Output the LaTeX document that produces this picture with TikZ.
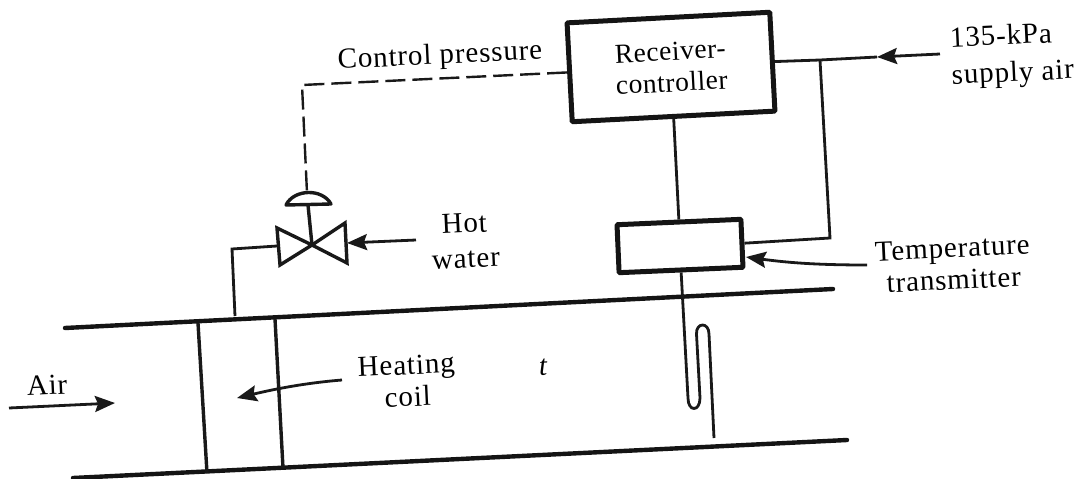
\documentclass[tikz,border=0pt]{standalone}
\usepackage{fontspec}
\setmainfont{Liberation Serif}[LetterSpace=3]
\usetikzlibrary{arrows.meta,calc}
\tikzset{
  lbl/.style={inner sep=0pt,font=\fontsize{29}{32}\selectfont,align=center,rotate=2.7},
  thinline/.style={line width=2.8pt,black!90},
  dashline/.style={line width=2.4pt,black!90,dash pattern=on 20pt off 7pt},
  valveline/.style={line width=3.4pt,black!90},
  heavy/.style={line width=4.4pt,black!92},
  boxthick/.style={draw=black!92,line width=5pt,rounded corners=1pt,inner sep=0pt},
  ptr/.style={thinline,-{Stealth[length=20pt,width=16pt,inset=3pt]}},
}
\begin{document}
\begin{tikzpicture}[x=1pt,y=-1pt]
\useasboundingbox (0,0) rectangle (1080,479);
% boxes
\node[boxthick,lbl,font=\fontsize{27.5}{31.5}\selectfont\addfontfeatures{LetterSpace=2},minimum width=203pt,minimum height=99pt,rotate=0.3] (recv) at (671,67) {Receiver-\\controller};
\node[boxthick,minimum width=124pt,minimum height=48pt,rotate=2.5] (trans) at (680,246) {};
% free ends
\coordinate (supplyend) at (940,54);
\coordinate (supplytip) at (877,57);
\coordinate (tee) at (820,60);
\coordinate (transcorner) at (830,238);
\coordinate (dashcorner) at (302,85);
\coordinate (domefl) at (286,205);
\coordinate (domefr) at (331,204);
\coordinate (domemid) at (307,193);
\coordinate (vc) at (312,245);
\coordinate (pipecorner) at (232,249);
\coordinate (pipefoot) at (235,316);
\coordinate (hotend) at (416,240);
\coordinate (ductTL) at (65,328);
\coordinate (ductTR) at (833,289);
\coordinate (ductBL) at (73,478);
\coordinate (ductBR) at (847,440);
% receiver connections
\draw[thinline] (recv.east) -- (tee) -- (supplytip);
\draw[ptr] (supplyend) -- (supplytip);
\draw[thinline] (tee) -- (transcorner) -- (trans.east);
\draw[thinline] (recv.south) -- (trans.north);
\draw[dashline] (recv.west) -- (dashcorner) -- (domemid);
% valve
\draw[valveline,line join=miter] (vc) -- (277,228) -- (280,265) -- cycle;
\draw[valveline,line join=miter] (vc) -- (345,223) -- (347,263) -- cycle;
\draw[valveline,line join=round,fill=white] (domefl) .. controls (294,189) and (322,188) .. (domefr) -- cycle;
\draw[valveline] (308,205) -- (vc);
\draw[thinline] (277,246) -- (pipecorner) -- (pipefoot);
\draw[ptr] (hotend) -- (347,243);
% duct
\draw[heavy,line cap=round] (ductTL) -- (ductTR);
\draw[heavy,line cap=round] (ductBL) -- (ductBR);
\draw[valveline] (198,323) -- (207,473);
\draw[valveline] (275,319) -- (283,468);
% probe
\draw[thinline] (trans.south) -- (688,398)
  .. controls (688,412) and (700,412) .. (700,398) -- (696.5,334)
  .. controls (696,322) and (709,322) .. (709,334) -- (714,438);
% arrows with labels
\draw[ptr] (9,408) -- (115,403);
\draw[ptr] (342,380) .. controls (305,383) and (275,389) .. (237,398);
\draw[ptr] (867,265) .. controls (820,265) and (790,263) .. (746,257);
% labels
\node[lbl] (cp) at (440,57) {Control pressure};
\node[lbl,font=\fontsize{29}{35}\selectfont] (hw) at (465,241) {Hot\\water};
\node[lbl] (hc) at (407,381) {Heating\\coil};
\node[lbl] (air) at (47,385) {Air};
\node[lbl] (tt) at (953,264) {Temperature\\transmitter};
\node[lbl,font=\fontsize{29}{37}\selectfont,align=left] (sa) at (1012,56) {135-kPa\\supply air};
\node[lbl,font=\fontsize{29}{30}\selectfont\itshape] (tv) at (543,367) {t};
\end{tikzpicture}
\end{document}
